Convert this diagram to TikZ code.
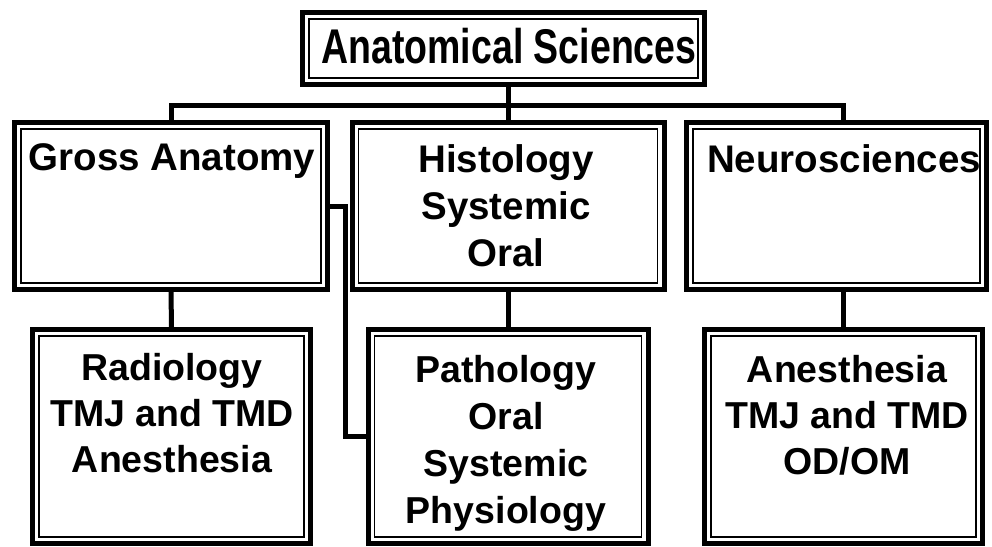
\documentclass[tikz,border=0pt]{standalone}
\usepackage{fontspec}
\setmainfont{Liberation Sans}
\setlength{\lineskiplimit}{-50pt}
\begin{document}
\begin{tikzpicture}[x=1pt,y=-1pt,
  box/.style={draw=black, line width=5pt, inner sep=0pt, fill=white,
    path picture={\draw[line width=1.2pt]
      ([xshift=6.5pt,yshift=-6.5pt]path picture bounding box.north west) rectangle
      ([xshift=-6.5pt,yshift=6.5pt]path picture bounding box.south east);}},
  conn/.style={draw=black, line width=5pt},
  lbl/.style={inner sep=0pt, align=center, anchor=north,
    font=\bfseries\fontsize{38.5}{47}\selectfont},
  lblb/.style={lbl, font=\bfseries\fontsize{37.5}{46}\selectfont},
  lblp/.style={lbl, font=\bfseries\fontsize{37.5}{47}\selectfont}
]
\useasboundingbox (0,0) rectangle (992,546);
% boxes
\node[box, minimum width=402pt, minimum height=72pt] (top) at (503.5,48.5) {};
\node[box, minimum width=313pt, minimum height=167pt] (gross) at (171,206) {};
\node[box, minimum width=312pt, minimum height=167pt] (hist) at (508,206) {};
\node[box, minimum width=300pt, minimum height=167pt] (neuro) at (836.5,206) {};
\node[box, minimum width=278pt, minimum height=214pt] (radio) at (171.5,436.5) {};
\node[box, minimum width=280pt, minimum height=214pt] (path) at (508,436.5) {};
\node[box, minimum width=278pt, minimum height=214pt] (anest) at (843.5,436.5) {};
% connectors
\coordinate (bus) at (0,105);
\draw[conn] (gross.north) |- (anest.north |- bus) -- (anest.north |- neuro.north);
\draw[conn] (top.south -| hist.north) -- (hist.north);
\draw[conn] (gross.south) -- (radio.north);
\draw[conn] (hist.south) -- (path.north);
\draw[conn] (anest.north |- neuro.south) -- (anest.north);
\draw[conn] (gross.east) -- ++(15.5,0) |- (path.west);
% labels
\node[lbl, anchor=center, font=\bfseries\fontsize{37.5}{40}\selectfont] (topT) at (509,46.5) {\scalebox{1}[1.3]{Anatomical Sciences}};
\node[lbl] (grossT) at (172,143) {Gross Anatomy};
\node[lbl] (histT) at (506,144) {Histology\\Systemic\\Oral};
\node[lbl] (neuroT) at (844,144) {Neurosciences};
\node[lblb] (radioT) at (172,353) {Radiology\\TMJ and TMD\\Anesthesia};
\node[lblp] (pathT) at (506,355) {Pathology\\Oral\\Systemic\\Physiology};
\node[lblb] (anestT) at (847,355) {Anesthesia\\TMJ and TMD\\OD/OM};
\end{tikzpicture}
\end{document}
